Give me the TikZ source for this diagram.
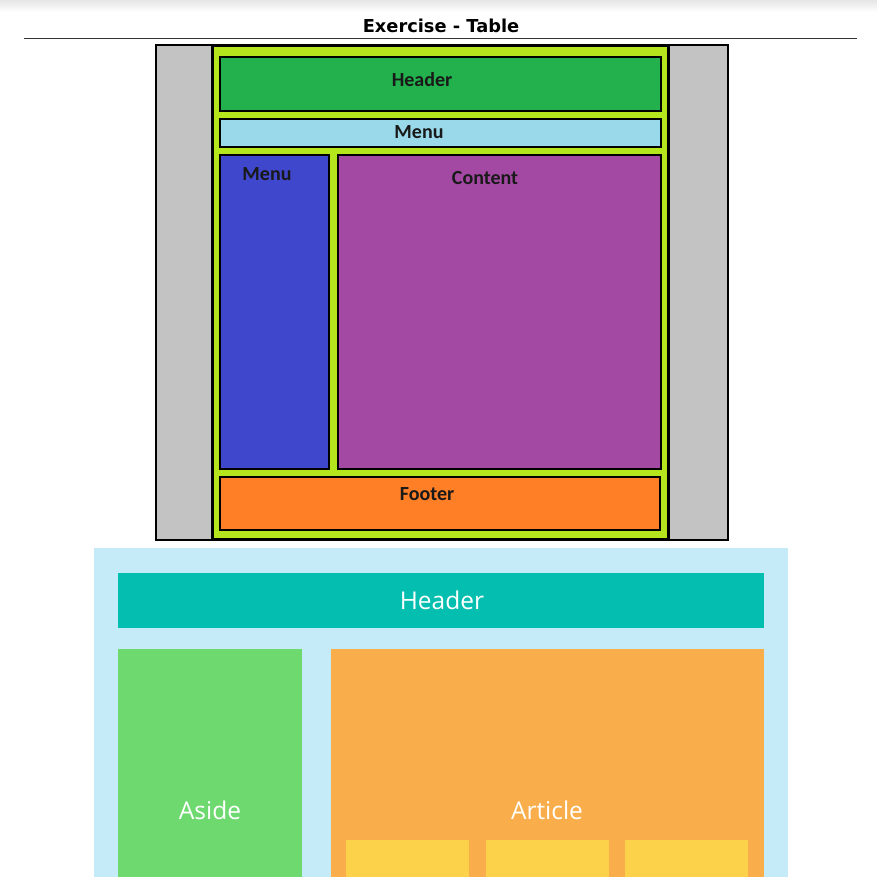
\documentclass[tikz,border=0pt]{standalone}
\usepackage{fontspec}
\setmainfont{Carlito}
\newfontfamily\titlefont{DejaVu Sans}
\newfontfamily\webfont{Open Sans}
\usetikzlibrary{positioning}

\definecolor{sidegray}{HTML}{C3C3C3}
\definecolor{limegreen}{HTML}{B5E61D}
\definecolor{hdrgreen}{HTML}{22B14C}
\definecolor{menublue}{HTML}{99D9EA}
\definecolor{navblue}{HTML}{3F48CC}
\definecolor{cntpurple}{HTML}{A349A4}
\definecolor{ftorange}{HTML}{FF7F27}
\definecolor{webbg}{HTML}{C5EAF8}
\definecolor{webteal}{HTML}{04BFB0}
\definecolor{webgreen}{HTML}{6DD96E}
\definecolor{weborange}{HTML}{F9AE4B}
\definecolor{webyellow}{HTML}{FCD24A}

\begin{document}
\begin{tikzpicture}[x=1pt, y=-1pt,
  blk/.style={draw, line width=2pt, inner sep=0pt, anchor=north west},
  web/.style={inner sep=0pt, anchor=north west},
  lbl/.style={font=\fontsize{20}{24}\selectfont\bfseries, text=black!90},
  weblbl/.style={font=\webfont\fontsize{24.5}{28}\selectfont, text=white}]
\useasboundingbox (0,0) rectangle (877,877);
\shade[top color=black!10, bottom color=white] (0,0) rectangle (877,12);

% title and rule
\node[font=\titlefont\bfseries\fontsize{17.8}{20}\selectfont] (title) at (441,26) {Exercise - Table};
\draw[line width=1pt, black!80] (24,39) -- (857,39);

% table layout
\node[blk, fill=sidegray, minimum width=572, minimum height=495] (page) at (155,44) {};
\node[blk, line width=3pt, fill=limegreen, minimum width=456, minimum height=494] (wrap) at (211,44) {};
\node[blk, fill=hdrgreen, minimum width=441, minimum height=54] (hdr) at (219,56) {};
\node[blk, fill=menublue, minimum width=441, minimum height=28] (menu) at (219,118) {};
\node[blk, fill=navblue, minimum width=109, minimum height=314] (nav) at (219,154) {};
\node[blk, fill=cntpurple, minimum width=323, minimum height=314] (cnt) at (337,154) {};
\node[blk, fill=ftorange, minimum width=440, minimum height=53] (foot) at (219,476) {};

\node[lbl] (hdrtxt) at (422,80) {Header};
\node[lbl] (menutxt) at (419,132) {Menu};
\node[lbl] (navtxt) at (267,174) {Menu};
\node[lbl] (cnttxt) at (485,178) {Content};
\node[lbl] (foottxt) at (427,494) {Footer};

% semantic layout
\node[web, fill=webbg, minimum width=694, minimum height=329] (site) at (94,548) {};
\node[web, fill=webteal, minimum width=646, minimum height=55] (whdr) at (118,573) {};
\node[web, fill=webgreen, minimum width=184, minimum height=228] (aside) at (118,649) {};
\node[web, fill=weborange, minimum width=433, minimum height=228] (article) at (331,649) {};
\foreach \x/\n in {346/a,486/b,625/c}{
  \node[web, fill=webyellow, minimum width=123, minimum height=37] (sec\n) at (\x,840) {};
}

\node[weblbl] (whdrtxt) at (442,600) {Header};
\node[weblbl] (asidetxt) at (210,810) {Aside};
\node[weblbl] (articletxt) at (547,810) {Article};
\end{tikzpicture}
\end{document}
